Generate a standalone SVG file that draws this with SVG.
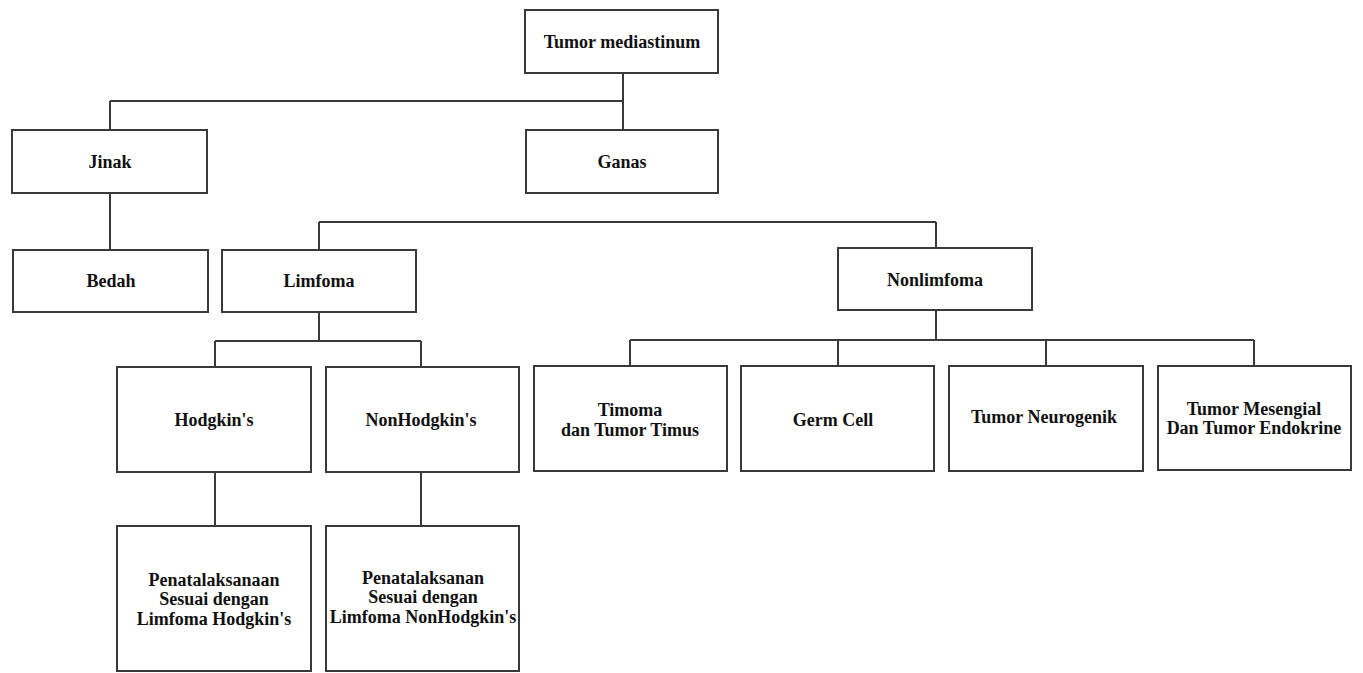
<svg xmlns="http://www.w3.org/2000/svg" width="1363" height="673" viewBox="0 0 1363 673">
<style>
.box{fill:#fff;stroke:#3a3a3a;stroke-width:2}
.lbl{font-family:"Liberation Serif","Times New Roman",serif;font-weight:bold;font-size:18px;fill:#111;text-anchor:middle}
.con{fill:none;stroke:#3a3a3a;stroke-width:2}
</style>
<rect width="1363" height="673" fill="#fff"/>
<g id="connectors">
<path class="con" d="M623 73V130M110 101H623M110 101V130"/>
<path class="con" d="M110 193V250"/>
<path class="con" d="M319 222H936M319 222V250M936 222V248"/>
<path class="con" d="M319 312V341M215 341H421M215 341V367M421 341V367"/>
<path class="con" d="M936 310V340M630 340H1254M630 340V366M838 340V366M1046 340V366M1254 340V366"/>
<path class="con" d="M215 472V526M421 472V526"/>
</g>
<g id="n-tumor"><rect class="box" x="525" y="10" width="193" height="63"/><text class="lbl" x="622" y="48">Tumor mediastinum</text></g>
<g id="n-jinak"><rect class="box" x="12" y="130" width="195" height="63"/><text class="lbl" x="110" y="168">Jinak</text></g>
<g id="n-ganas"><rect class="box" x="526" y="130" width="192" height="63"/><text class="lbl" x="622" y="168">Ganas</text></g>
<g id="n-bedah"><rect class="box" x="13" y="250" width="195" height="62"/><text class="lbl" x="111" y="287">Bedah</text></g>
<g id="n-limfoma"><rect class="box" x="222" y="250" width="194" height="62"/><text class="lbl" x="319" y="287">Limfoma</text></g>
<g id="n-nonlimfoma"><rect class="box" x="838" y="248" width="194" height="62"/><text class="lbl" x="935" y="286">Nonlimfoma</text></g>
<g id="n-hodgkin"><rect class="box" x="117" y="367" width="194" height="105"/><text class="lbl" x="214" y="426">Hodgkin's</text></g>
<g id="n-nonhodgkin"><rect class="box" x="326" y="367" width="193" height="105"/><text class="lbl" x="421" y="426">NonHodgkin's</text></g>
<g id="n-timoma"><rect class="box" x="534" y="366" width="193" height="105"/><text class="lbl" x="630" y="416">Timoma</text><text class="lbl" x="630" y="436">dan Tumor Timus</text></g>
<g id="n-germ"><rect class="box" x="741" y="366" width="193" height="105"/><text class="lbl" x="833" y="426">Germ Cell</text></g>
<g id="n-neuro"><rect class="box" x="949" y="366" width="194" height="105"/><text class="lbl" x="1044" y="423">Tumor Neurogenik</text></g>
<g id="n-mesengial"><rect class="box" x="1158" y="366" width="193" height="104"/><text class="lbl" x="1254" y="415">Tumor Mesengial</text><text class="lbl" x="1254" y="434">Dan Tumor Endokrine</text></g>
<g id="n-pen-h"><rect class="box" x="117" y="526" width="194" height="145"/><text class="lbl" x="214" y="586">Penatalaksanaan</text><text class="lbl" x="214" y="605">Sesuai dengan</text><text class="lbl" x="214" y="625">Limfoma Hodgkin's</text></g>
<g id="n-pen-nh"><rect class="box" x="326" y="526" width="193" height="145"/><text class="lbl" x="423" y="584">Penatalaksanan</text><text class="lbl" x="423" y="603">Sesuai dengan</text><text class="lbl" x="423" y="623">Limfoma NonHodgkin's</text></g>
</svg>
